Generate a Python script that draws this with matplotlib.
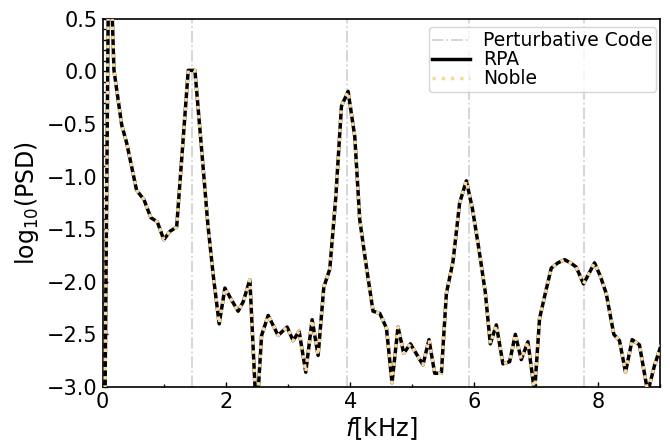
import matplotlib
matplotlib.use('Agg')
import matplotlib.pyplot as plt
import numpy as np
from matplotlib.ticker import MultipleLocator

# frequency (kHz) and log10(PSD)
freq_khz = [0.000, 0.105, 0.185, 0.310, 0.390, 0.550, 0.670, 0.780, 0.884, 0.990,
            1.089, 1.197, 1.290, 1.384, 1.492, 1.600, 1.700, 1.790, 1.884, 1.976,
            2.080, 2.190, 2.271, 2.379, 2.487, 2.568, 2.675, 2.835, 2.980, 3.077,
            3.174, 3.282, 3.384, 3.481, 3.573, 3.669, 3.766, 3.858, 3.965, 4.073,
            4.153, 4.261, 4.368, 4.476, 4.584, 4.674, 4.771, 4.863, 4.971, 5.174,
            5.271, 5.363, 5.471, 5.552, 5.658, 5.766, 5.874, 5.971, 6.080, 6.180,
            6.261, 6.358, 6.465, 6.573, 6.665, 6.761, 6.868, 6.976, 7.056, 7.137,
            7.245, 7.352, 7.460, 7.556, 7.648, 7.766, 7.944, 8.040, 8.132, 8.255,
            8.347, 8.444, 8.552, 8.669, 8.803, 8.910, 9.020]
log_psd = [-6.00, 1.50, 0.01, -0.51, -0.68, -1.13, -1.22, -1.39, -1.43, -1.60,
           -1.52, -1.48, -0.74, 0.01, 0.01, -0.74, -1.45, -1.95, -2.40, -2.06,
           -2.17, -2.28, -2.19, -1.98, -3.30, -2.51, -2.32, -2.51, -2.43, -2.56,
           -2.47, -2.86, -2.36, -2.70, -2.05, -1.88, -1.20, -0.33, -0.19, -0.62,
           -1.41, -1.86, -2.28, -2.30, -2.44, -2.96, -2.43, -2.68, -2.59, -2.79,
           -2.55, -2.87, -2.87, -2.11, -1.81, -1.25, -1.04, -1.30, -1.70, -2.10,
           -2.59, -2.41, -2.78, -2.76, -2.50, -2.74, -2.57, -3.05, -2.35, -2.14,
           -1.87, -1.82, -1.79, -1.82, -1.86, -2.02, -1.82, -1.95, -2.11, -2.50,
           -2.56, -2.86, -2.55, -2.60, -3.05, -2.80, -2.60]

# mode frequencies from the perturbative code (kHz)
pert_freqs = [1.44, 3.94, 5.91, 7.77]

noble_color = '#F8D9A4'

fig = plt.figure(figsize=(6.7, 4.43), dpi=100)
ax = fig.add_axes([0.153, 0.1265, 0.832, 0.831])

for i, fp in enumerate(pert_freqs):
    ax.axvline(fp, color='lightgray', linestyle='-.', lw=1.3,
               label='Perturbative Code' if i == 0 else None, zorder=1)

ax.plot(freq_khz, log_psd, color='black', lw=2.5, label='RPA', zorder=2)
ax.plot(freq_khz, log_psd, color=noble_color, lw=2.5, linestyle=':', label='Noble', zorder=3)

ax.set_xlim(0, 9.0)
ax.set_ylim(-3.0, 0.5)
ax.xaxis.set_major_locator(MultipleLocator(2))
ax.xaxis.set_minor_locator(MultipleLocator(1))
ax.yaxis.set_major_locator(MultipleLocator(0.5))
ax.yaxis.set_minor_locator(MultipleLocator(0.1))
ax.tick_params(which='both', direction='in', labelsize=15, width=1)
ax.tick_params(which='major', length=3.5)
ax.tick_params(which='minor', length=2)
for s in ax.spines.values():
    s.set_linewidth(1.2)

ax.set_xlabel('$f$[kHz]', fontsize=17.5, labelpad=2.5)
ax.set_ylabel('log$_{10}$(PSD)', fontsize=17)

ax.legend(loc='upper right', bbox_to_anchor=(1.0, 0.987), borderaxespad=0.2,
          fontsize=13.5, labelspacing=0.0, handlelength=2.0, handletextpad=0.7,
          borderpad=0.2)

plt.savefig('out.png', dpi=100)
